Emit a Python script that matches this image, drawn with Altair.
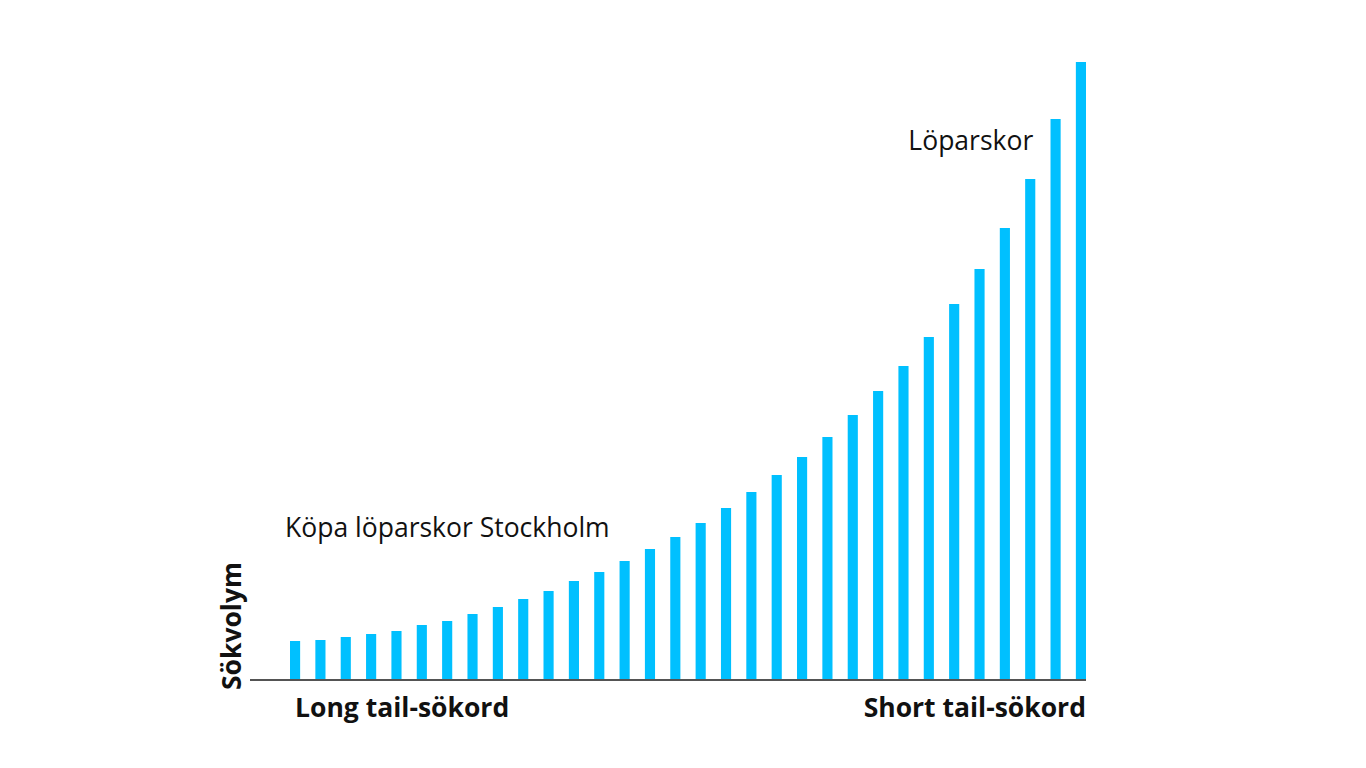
import altair as alt
import pandas as pd

# Data
keywords = list(range(1, 33))
volume = [39, 40, 43, 46, 49, 55, 59, 66, 73, 81, 89, 99, 108, 119, 131, 143,
          157, 172, 188, 205, 223, 243, 265, 289, 314, 343, 376, 411, 452, 501, 561, 618]

ann_text = ["Köpa löparskor Stockholm", "Löparskor"]
ann_idx = [1, 30]
ann_val = [143, 530]
ann_align = ["left", "right"]
ann_dx = [-10, 3]

W, H = 796, 618
BAR = "#00C0FF"
FONT = "Open Sans"
FS = 26.5

df = pd.DataFrame({"idx": keywords, "volume": volume})

xscale = alt.Scale(domain=keywords, paddingInner=0.6, paddingOuter=0)
yscale = alt.Scale(domain=[0, 618], nice=False)

bars = alt.Chart(df).mark_bar(color=BAR).encode(
    x=alt.X("idx:O", scale=xscale, axis=None),
    y=alt.Y("volume:Q", scale=yscale, axis=None),
)

layers = [bars]
for t, i, v, a, d in zip(ann_text, ann_idx, ann_val, ann_align, ann_dx):
    layers.append(
        alt.Chart(pd.DataFrame({"text": [t], "idx": [i], "volume": [v]}))
        .mark_text(font=FONT, fontSize=FS, align=a, dx=d, baseline="alphabetic", color="#111")
        .encode(
            x=alt.X("idx:O", scale=xscale, axis=None),
            y=alt.Y("volume:Q", scale=yscale, axis=None),
            text="text:N",
        )
    )

axis_line = alt.Chart(df).mark_rule(color="#555", strokeWidth=1).encode(
    x=alt.value(-40), x2=alt.value(W), y=alt.value(H)
)

long_lbl = alt.Chart(pd.DataFrame({"text": ["Long tail-sökord"], "idx": [1]})).mark_text(
    font=FONT, fontSize=FS, fontWeight="bold", align="left", baseline="alphabetic", color="#111"
).encode(
    x=alt.X("idx:O", scale=xscale, axis=None),
    y=alt.value(H + 37),
    text="text:N",
)

short_lbl = alt.Chart(pd.DataFrame({"text": ["Short tail-sökord"], "idx": [32]})).mark_text(
    font=FONT, fontSize=FS, fontWeight="bold", align="right", dx=5, baseline="alphabetic", color="#111"
).encode(
    x=alt.X("idx:O", scale=xscale, axis=None),
    y=alt.value(H + 37),
    text="text:N",
)

ylbl = alt.Chart(pd.DataFrame({"text": ["Sökvolym"]})).mark_text(
    font=FONT, fontSize=FS, fontWeight="bold", angle=270, align="center", baseline="middle", color="#111"
).encode(
    x=alt.value(-57), y=alt.value(564), text="text:N"
)

chart = alt.layer(*layers, axis_line, long_lbl, short_lbl, ylbl).properties(
    width=W, height=H,
    autosize=alt.AutoSizeParams(type="none"),
    padding={"left": 282, "top": 54, "right": 20, "bottom": 70},
).configure_view(stroke=None)

chart.save("out.html", embed_options={"renderer": "svg", "actions": False})
